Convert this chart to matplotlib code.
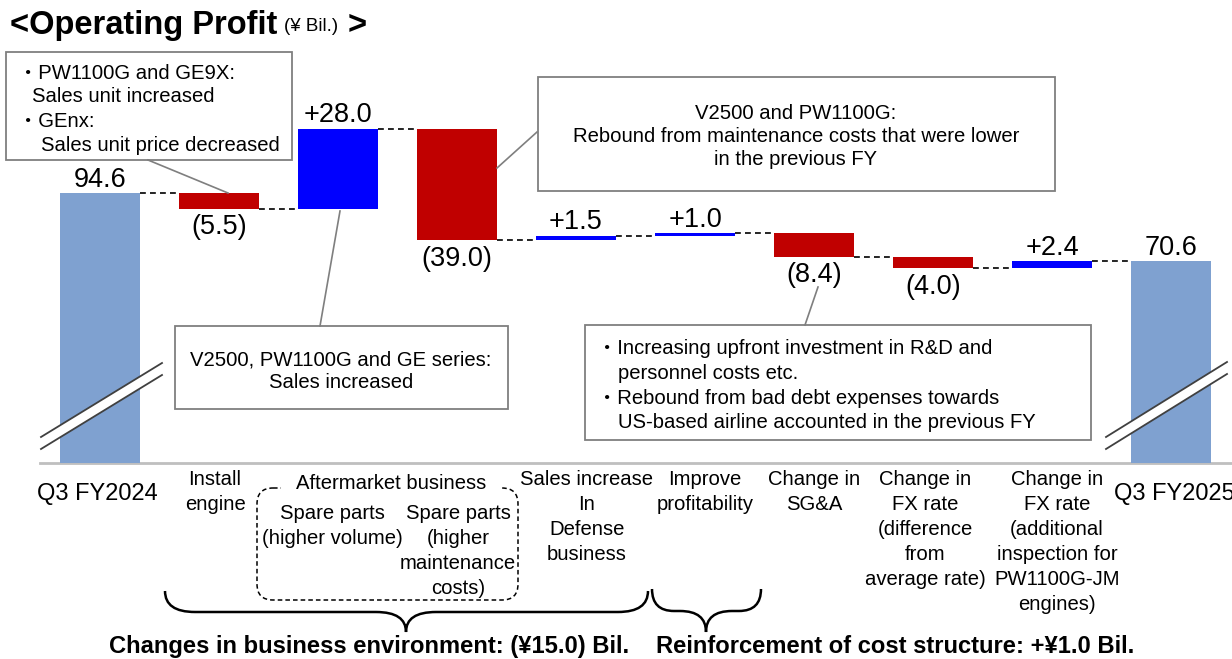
import numpy as np
import matplotlib
matplotlib.use("Agg")
import matplotlib.pyplot as plt
from matplotlib import patches
from matplotlib.lines import Line2D
from matplotlib.path import Path
from matplotlib.transforms import Affine2D, blended_transform_factory

# ---- data (¥ Bil.) ----
start_label = "Q3 FY2024"
end_label = "Q3 FY2025"
start_value = 94.6
end_value = 70.6
step_names = [
    "Install\nengine",
    "Spare parts\n(higher volume)",
    "Spare parts\n(higher\nmaintenance\ncosts)",
    "Sales increase\nIn\nDefense\nbusiness",
    "Improve\nprofitability",
    "Change in\nSG&A",
    "Change in\nFX rate\n(difference\nfrom\naverage rate)",
    "Change in\nFX rate\n(additional\ninspection for\nPW1100G-JM\nengines)",
]
step_values = [-5.5, 28.0, -39.0, 1.5, 1.0, -8.4, -4.0, 2.4]
group_names = [
    "Changes in business environment: (¥15.0) Bil.",
    "Reinforcement of cost structure: +¥1.0 Bil.",
]

# ---- layout (pixels of the 1232x659 canvas) ----
W, H = 1232, 659
X0_PX, STEP_PX = 100, 119
ZERO_PX, UNIT_PX = 463, 2.855
BAR_W = 0.67
BASE_C, RED_C, BLUE_C = "#7FA1D0", "#C00000", "#0000FF"
BOX_C = "#7F7F7F"
FS = 14.6      # body text
FS_VAL = 19.5  # value labels
LS = 1.4       # line spacing of the category labels

plt.rcParams["font.family"] = ["Liberation Sans", "Noto Sans CJK JP"]

fig = plt.figure(figsize=(W / 100, H / 100), dpi=100)
ax = fig.add_axes([0, 0, 1, 1])
ax.set_xlim(-X0_PX / STEP_PX, (W - X0_PX) / STEP_PX)
ax.set_ylim(-(H - ZERO_PX) / UNIT_PX, ZERO_PX / UNIT_PX)
ax.axis("off")

# pixel coords, y measured from the top
pix = Affine2D().scale(1 / W, -1 / H).translate(0, 1) + fig.transFigure
xdata_ypix = blended_transform_factory(ax.transData, pix)

n = len(step_values) + 2
x = np.arange(n)
levels = start_value + np.cumsum(step_values)
prev = np.concatenate([[start_value], levels[:-1]])

ax.bar([0, n - 1], [start_value, end_value], width=BAR_W, color=BASE_C, zorder=3)
ax.bar(x[1:-1], step_values, bottom=prev, width=BAR_W,
       color=[RED_C if v < 0 else BLUE_C for v in step_values], zorder=3)

# dashed connectors
tops = np.concatenate([[start_value], levels])
for i in range(n - 1):
    ax.plot([i + BAR_W / 2, i + 1 - BAR_W / 2], [tops[i], tops[i]],
            color="black", lw=1.2, dashes=(3.5, 2.5), zorder=2)

ax.axhline(0, xmin=40 / W, color="#BFBFBF", lw=2, zorder=1)

# value labels
def fmt(v):
    return f"({abs(v):.1f})" if v < 0 else f"+{v:.1f}"

for xi, v in [(0, start_value), (n - 1, end_value)]:
    ax.annotate(f"{v:.1f}", (xi, v), xytext=(0, 4.5), textcoords="offset points",
                ha="center", va="baseline", fontsize=FS_VAL)
for i, v in enumerate(step_values):
    if v < 0:
        ax.annotate(fmt(v), (i + 1, prev[i] + v), xytext=(0, -4), textcoords="offset points",
                    ha="center", va="top", fontsize=FS_VAL)
    else:
        ax.annotate(fmt(v), (i + 1, prev[i] + v), xytext=(0, 4.5), textcoords="offset points",
                    ha="center", va="baseline", fontsize=FS_VAL)

# break marks on the two total bars
for (xa, ya, xb, yb) in [(41, 437, 162, 363), (1106, 437, 1227, 362)]:
    band = patches.Polygon([(xa, ya), (xb, yb), (xb, yb + 12), (xa, ya + 12)],
                           closed=True, transform=pix, fc="white", ec="none", zorder=5)
    fig.add_artist(band)
    for dy in (0, 12):
        fig.add_artist(Line2D([xa, xb], [ya + dy, yb + dy], transform=pix,
                              color="#404040", lw=1.3, zorder=6))

# category labels
cat_labels = [start_label] + step_names + [end_label]
nudge = [-3, -4, -6, 1, 11, 10, 0, -8, 5, 3]
for i, lab in enumerate(cat_labels):
    xi = i + nudge[i] / STEP_PX
    if i in (0, n - 1):
        ax.text(xi, 500, lab, transform=xdata_ypix, ha="center", va="baseline", fontsize=17)
    elif i in (2, 3):
        ax.text(xi, 504, lab, transform=xdata_ypix, ha="center", va="top",
                fontsize=FS, linespacing=LS, zorder=8)
    else:
        ax.text(xi, 470, lab, transform=xdata_ypix, ha="center", va="top",
                fontsize=FS, linespacing=LS)

# aftermarket group box
fig.add_artist(patches.FancyBboxPatch((257, 488), 261, 112, boxstyle="round,pad=0,rounding_size=16",
                                      transform=pix, fill=False, ec="black", lw=1.1,
                                      ls=(0, (3, 2)), zorder=4))
fig.add_artist(patches.Rectangle((281, 478), 219, 20, transform=pix, fc="white", ec="none", zorder=5))
fig.text(391, 489, "Aftermarket business", transform=pix, ha="center", va="baseline",
         fontsize=FS, zorder=6)

# braces
def brace(x0, x1, xm, y0, yf, yt, r=24, t=30):
    verts = [(x0, y0), (x0, yf), (x0 + r, yf), (xm - t, yf), (xm, yf), (xm, yt),
             (xm, yf), (xm + t, yf), (x1 - r, yf), (x1, yf), (x1, y0)]
    codes = [Path.MOVETO, Path.CURVE3, Path.CURVE3, Path.LINETO, Path.CURVE3, Path.CURVE3,
             Path.CURVE3, Path.CURVE3, Path.LINETO, Path.CURVE3, Path.CURVE3]
    fig.add_artist(patches.PathPatch(Path(verts, codes), transform=pix, fill=False,
                                     ec="black", lw=1.8))

brace(165, 648, 406, 591, 612, 632, r=30, t=30)
brace(652, 761, 706, 589, 611, 632, r=22, t=26)

fig.text(369, 653, group_names[0], transform=pix, ha="center", va="baseline",
         fontsize=17.1, fontweight="bold")
fig.text(895, 653, group_names[1], transform=pix, ha="center", va="baseline",
         fontsize=17.1, fontweight="bold")

# callout boxes
def box(x0, y0, x1, y1):
    fig.add_artist(patches.Rectangle((x0, y0), x1 - x0, y1 - y0, transform=pix,
                                     fc="white", ec=BOX_C, lw=1.3, zorder=7))

def leader(xa, ya, xb, yb):
    fig.add_artist(Line2D([xa, xb], [ya, yb], transform=pix, color=BOX_C, lw=1.2, zorder=7))

box(6, 52, 292, 160)
leader(148, 160, 228, 193)
for tx, ty, s in [(18, 79, "・PW1100G and GE9X:"), (32, 102, "Sales unit increased"),
                  (18, 127, "・GEnx:"), (41, 151, "Sales unit price decreased")]:
    fig.text(tx, ty, s, transform=pix, ha="left", va="baseline", fontsize=FS, zorder=8)

box(538, 77, 1055, 191)
leader(537, 132, 497, 168)
for ty, s in [(119, "V2500 and PW1100G:"),
              (142, "Rebound from maintenance costs that were lower"),
              (165, "in the previous FY")]:
    fig.text(796, ty, s, transform=pix, ha="center", va="baseline", fontsize=FS, zorder=8)

box(175, 326, 508, 409)
leader(340, 211, 320, 326)
for ty, s in [(365, "V2500, PW1100G and GE series:"), (388, "Sales increased")]:
    fig.text(341, ty, s, transform=pix, ha="center", va="baseline", fontsize=FS, zorder=8)

box(585, 325, 1091, 440)
leader(818, 287, 805, 325)
for tx, ty, s in [(597, 354, "・Increasing upfront investment in R&D and"),
                  (618, 379, "personnel costs etc."),
                  (597, 404, "・Rebound from bad debt expenses towards"),
                  (618, 428, "US-based airline accounted in the previous FY")]:
    fig.text(tx, ty, s, transform=pix, ha="left", va="baseline", fontsize=FS, zorder=8)

# title
fig.text(10, 34, "<Operating Profit", transform=pix, ha="left", va="baseline",
         fontsize=23.5, fontweight="bold")
fig.text(284, 31, "(¥ Bil.)", transform=pix, ha="left", va="baseline", fontsize=13.5)
fig.text(348, 34, ">", transform=pix, ha="left", va="baseline", fontsize=23.5, fontweight="bold")

fig.savefig("out.png", dpi=100)
